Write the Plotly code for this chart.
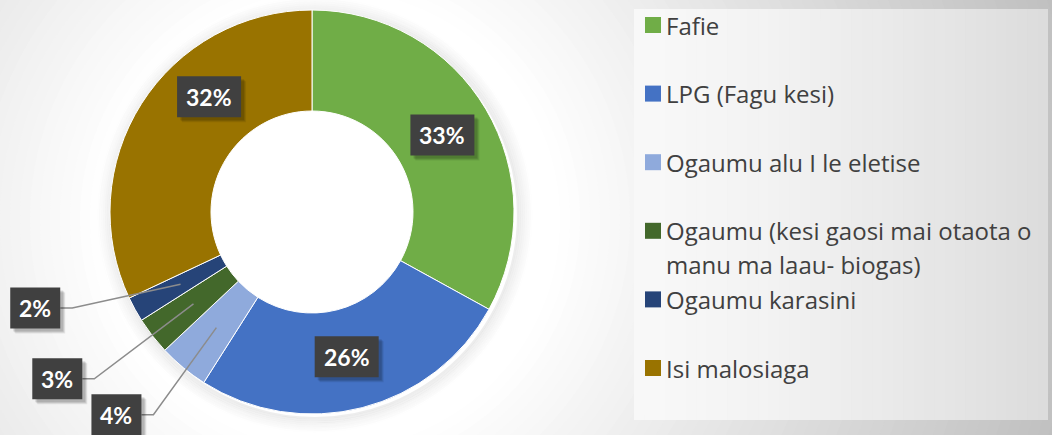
import math
import textwrap
import plotly.graph_objects as go

# ---------------- data ----------------
labels = [
    "Fafie",
    "LPG (Fagu kesi)",
    "Ogaumu alu I le eletise",
    "Ogaumu (kesi gaosi mai otaota o manu ma laau- biogas)",
    "Ogaumu karasini",
    "Isi malosiaga",
]
values = [33, 26, 4, 3, 2, 32]
colors = ["#70AD47", "#4472C4", "#8FAADC", "#43682B", "#264478", "#997300"]

# ---------------- layout constants (pixels) ----------------
W, H = 1052, 435
CX, CY, R_OUT, HOLE = 312, 212, 202, 0.5
R_MID = R_OUT * (1 + HOLE) / 2
# manual label nudges (pixels, relative to slice mid-ring point)
label_offsets = [(0, 0), (-3, -2), (-99, 86), (-135, 74), (-144, 23), (25, -34)]


def px(x):
    return x / W


def py(y):
    return 1 - y / H


def gray(g):
    g = int(max(0, min(255, round(g))))
    return f"rgb({g},{g},{g})"


shapes = []
annotations = []

# radial background glow
r = 780
while r >= 220:
    g = 255 - 0.12 * max(0, r - 230)
    shapes.append(dict(type="circle", xref="paper", yref="paper",
                       x0=px(330 - r), x1=px(330 + r), y0=py(220 + r), y1=py(220 - r),
                       fillcolor=gray(g), line=dict(width=0), layer="below"))
    r -= 10

# donut soft shadow (rings only, so the hole stays clean)
for k in range(1, 16, 2):
    rr = R_OUT + k
    shapes.append(dict(type="circle", xref="paper", yref="paper",
                       x0=px(CX + 3 - rr), x1=px(CX + 3 + rr),
                       y0=py(CY + 3 + rr), y1=py(CY + 3 - rr),
                       fillcolor="rgba(0,0,0,0)",
                       line=dict(width=2.2, color=f"rgba(0,0,0,{0.075 * (1 - k / 16):.3f})"),
                       layer="below"))

# legend panel with horizontal gradient
LX0, LX1, LY0, LY1 = 634, 1048, 9, 420
n = 40
for i in range(n):
    x0 = LX0 + (LX1 - LX0) * i / n
    x1 = LX0 + (LX1 - LX0) * (i + 1) / n + 0.6
    g = 248 - 28 * (i / (n - 1)) ** 1.4
    shapes.append(dict(type="rect", xref="paper", yref="paper",
                       x0=px(x0), x1=px(min(x1, LX1)), y0=py(LY1), y1=py(LY0),
                       fillcolor=gray(g), line=dict(width=0), layer="below"))

# legend entries
ITEM0, STEP = 25, 68.6
for i, (lab, col) in enumerate(zip(labels, colors)):
    yc = ITEM0 + i * STEP
    shapes.append(dict(type="rect", xref="paper", yref="paper",
                       x0=px(645), x1=px(661), y0=py(yc + 8), y1=py(yc - 8),
                       fillcolor=col, line=dict(width=0)))
    for j, line in enumerate(textwrap.wrap(lab, 31)):
        annotations.append(dict(xref="paper", yref="paper", x=px(664), y=py(yc + j * 34),
                                xanchor="left", yanchor="middle", showarrow=False,
                                text=line, font=dict(family="Open Sans", size=24, color="#404040")))

# data labels
total = sum(values)
cum = 0
for i, v in enumerate(values):
    mid = (cum + v / 2) / total * 2 * math.pi
    cum += v
    ax = CX + R_MID * math.sin(mid)
    ay = CY - R_MID * math.cos(mid)
    ox, oy = label_offsets[i]
    bx, by = ax + ox, ay + oy
    txt = f"{v}%"
    bw = 64 if len(txt) > 2 else 50
    bh = 41
    if v < 10:
        # leader line: box right edge -> short horizontal -> slice mid point
        lx0 = bx + bw / 2
        pts = [(lx0, by), (lx0 + 12, by), (CX + 150 * math.sin(mid), CY - 150 * math.cos(mid))]
        path = "M " + " L ".join(f"{px(a)},{py(b)}" for a, b in pts)
        shapes.append(dict(type="path", xref="paper", yref="paper", path=path,
                           line=dict(color="#8c8c8c", width=1.5)))
    # soft shadow + box
    for s, a in ((5, 0.08), (4, 0.10), (3, 0.12)):
        shapes.append(dict(type="rect", xref="paper", yref="paper",
                           x0=px(bx - bw / 2 + s), x1=px(bx + bw / 2 + s),
                           y0=py(by + bh / 2 + s), y1=py(by - bh / 2 + s),
                           fillcolor=f"rgba(0,0,0,{a})", line=dict(width=0)))
    shapes.append(dict(type="rect", xref="paper", yref="paper",
                       x0=px(bx - bw / 2), x1=px(bx + bw / 2),
                       y0=py(by + bh / 2), y1=py(by - bh / 2),
                       fillcolor="#404040", line=dict(width=0)))
    annotations.append(dict(xref="paper", yref="paper", x=px(bx), y=py(by),
                            xanchor="center", yanchor="middle", showarrow=False,
                            text=f"<b>{txt}</b>",
                            font=dict(family="Lato", size=23, color="#ffffff")))

fig = go.Figure(go.Pie(
    labels=labels, values=values, hole=HOLE, sort=False, direction="clockwise",
    rotation=0, textinfo="none", hoverinfo="label+percent",
    marker=dict(colors=colors, line=dict(color="#ffffff", width=1)),
    domain=dict(x=[px(CX - R_OUT), px(CX + R_OUT)], y=[py(CY + R_OUT), py(CY - R_OUT)]),
    showlegend=False,
))

fig.update_layout(
    width=W, height=H, margin=dict(l=0, r=0, t=0, b=0),
    paper_bgcolor="#d0d0d0", plot_bgcolor="rgba(0,0,0,0)",
    shapes=shapes, annotations=annotations, showlegend=False,
)

fig.write_html("out.html", config={"displayModeBar": False},
               post_script="document.body.style.margin='0';document.body.style.overflow='hidden';")
